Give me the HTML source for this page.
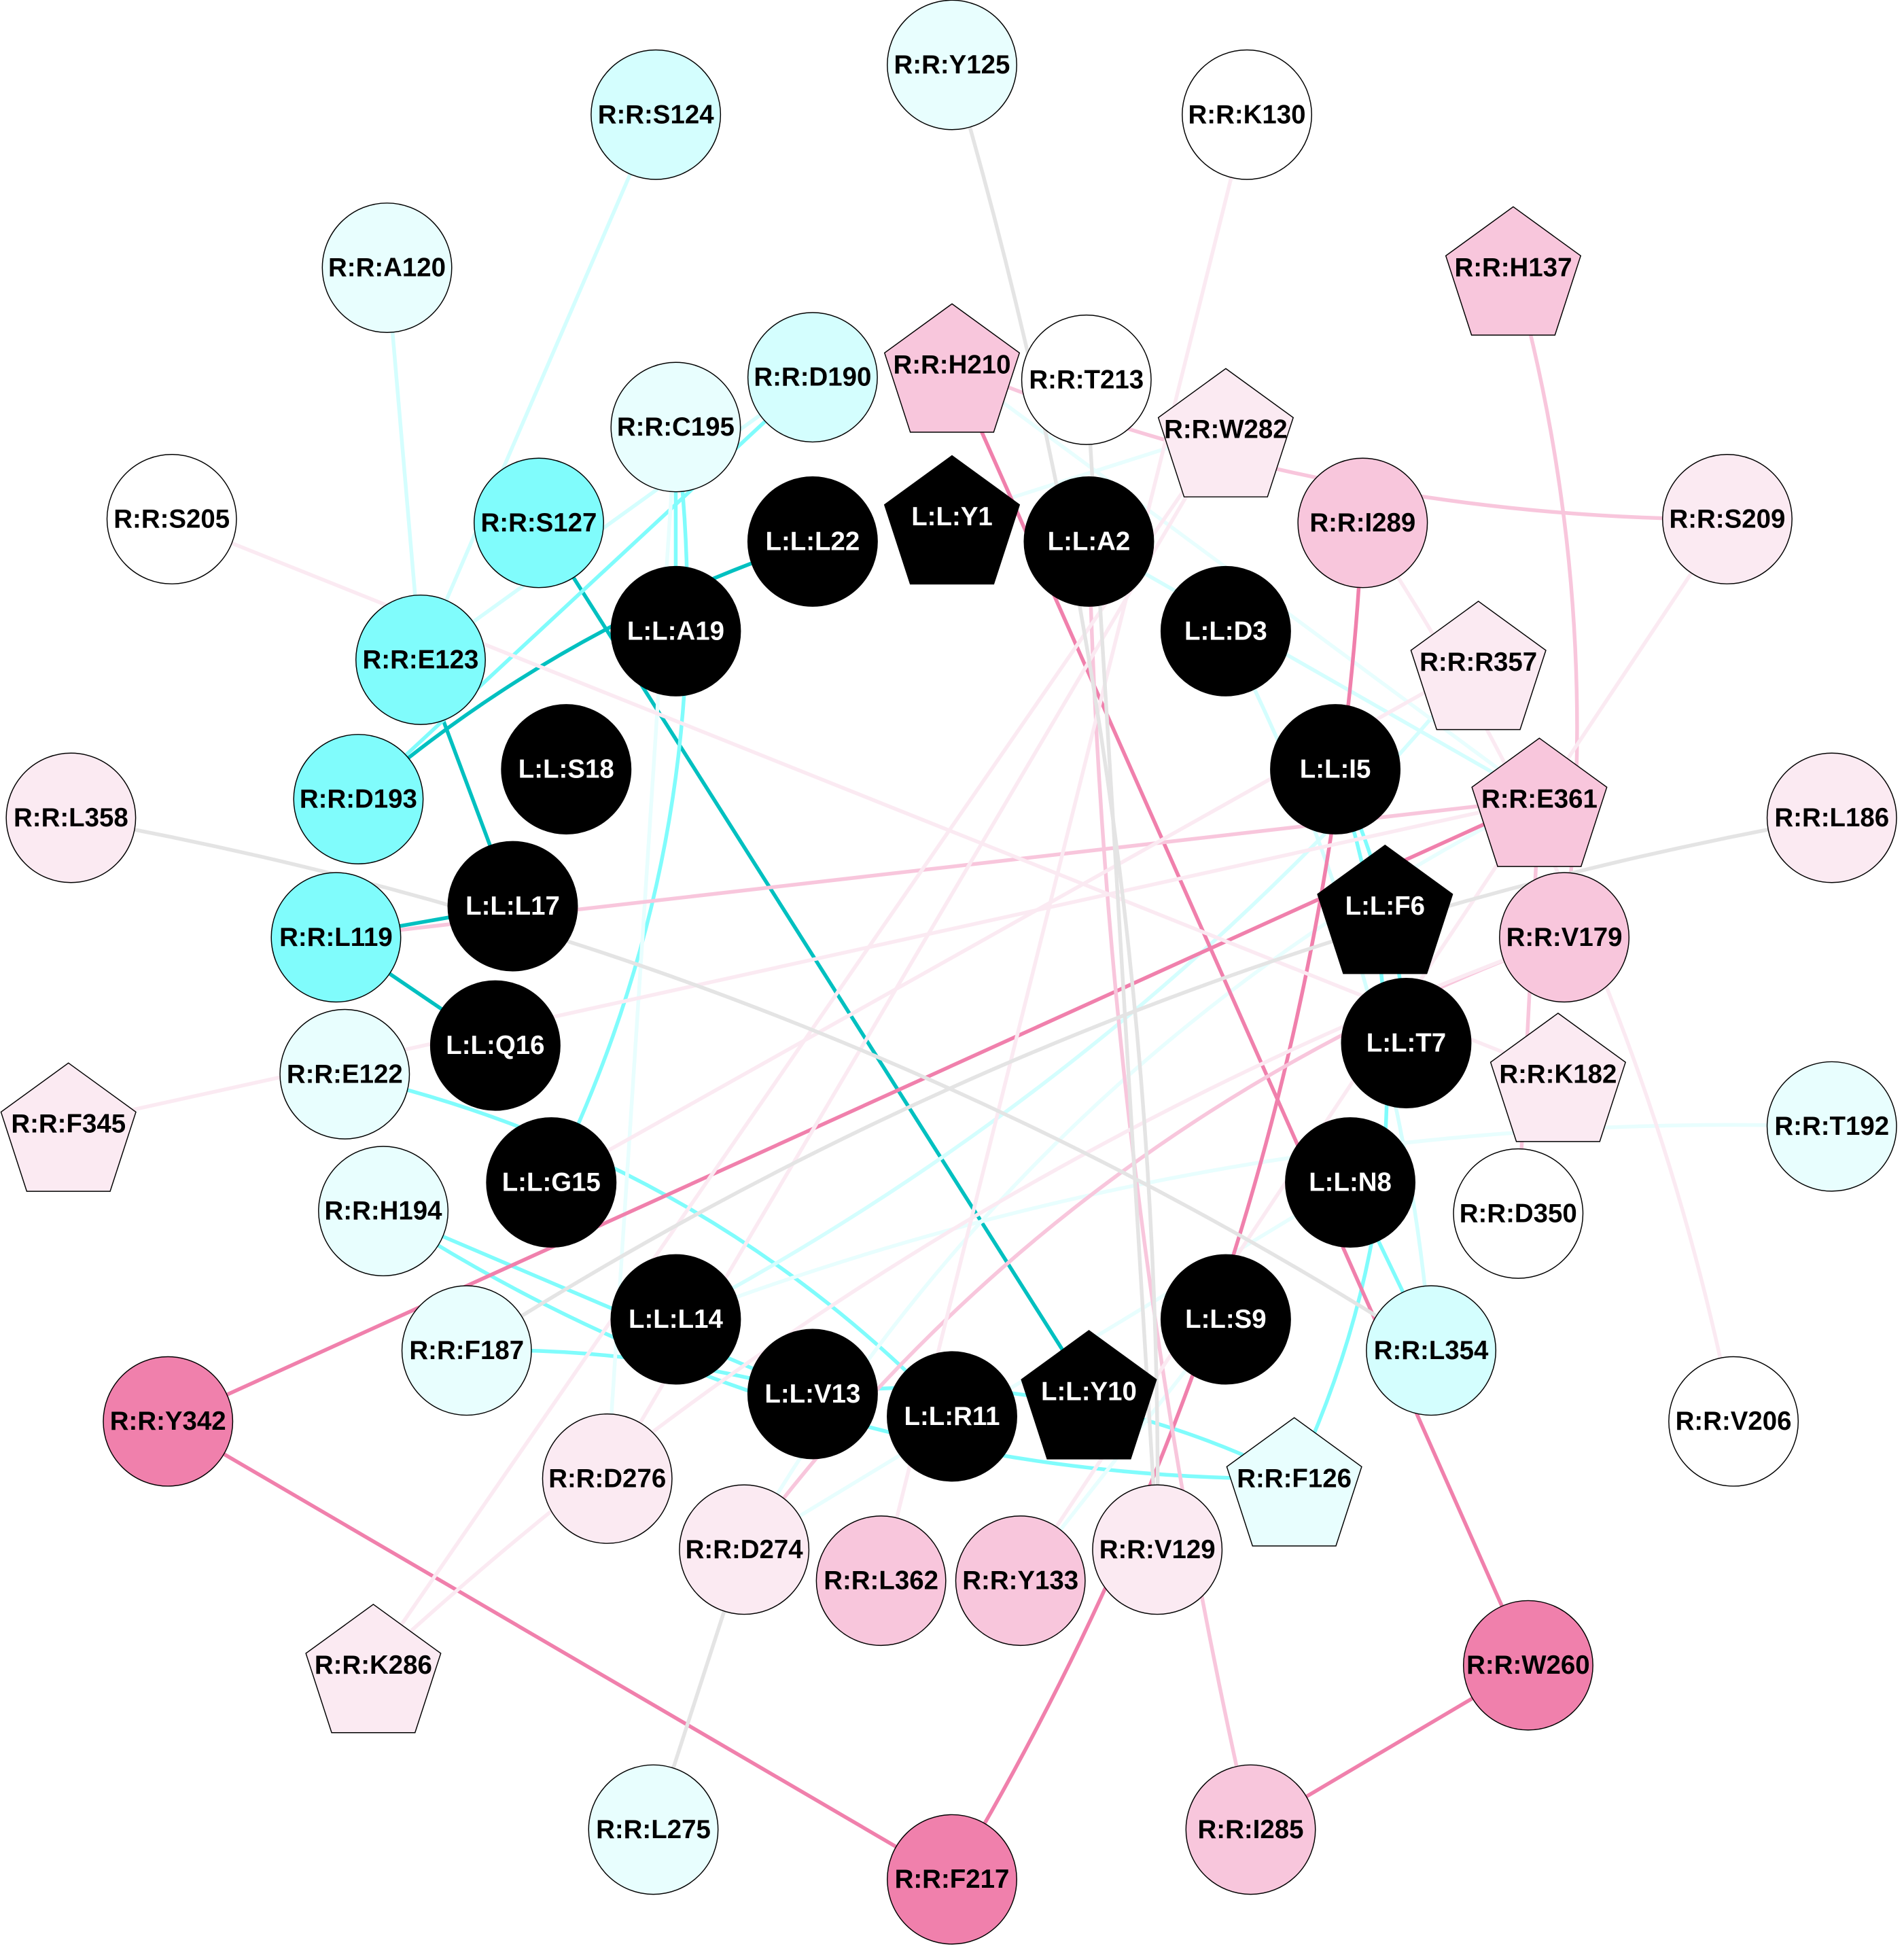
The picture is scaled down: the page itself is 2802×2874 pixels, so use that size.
<!DOCTYPE html>
<html><head><meta charset="utf-8"><style>
html,body{margin:0;padding:0;background:#fff;width:2802px;height:2874px;overflow:hidden}
svg{display:block}
text{font-family:"Liberation Sans",Arial,sans-serif;font-weight:bold;font-size:21px;text-anchor:middle;dominant-baseline:central}
</style></head><body>
<svg id="s" width="2802" height="2874" viewBox="0 0 1530 1569" xmlns="http://www.w3.org/2000/svg">
<g id="e" fill="none" stroke-width="3"></g>
<g id="n"></g>
</svg>
<script>
var N={
"R:R:Y125":[765,52,"c","#e8fefe"],"R:R:S124":[527,92,"c","#d4fefe"],"R:R:K130":[1002,92,"c","#fff"],
"R:R:A120":[311,215,"c","#e8fefe"],"R:R:H137":[1216,215,"p","#f8c6dc"],"R:R:D190":[653,303,"c","#d4fefe"],
"R:R:H210":[765,293,"p","#f8c6dc"],"R:R:T213":[873,305,"c","#fff"],"R:R:C195":[543,343,"c","#e8fefe"],
"R:R:W282":[985,345,"p","#fbeaf2"],"R:R:S205":[138,417,"c","#fff"],"R:R:S127":[433,420,"c","#80fcfc"],
"L:L:L22":[653,435,"c","#000"],"L:L:Y1":[765,415,"p","#000"],"L:L:A2":[875,435,"c","#000"],
"R:R:I289":[1095,420,"c","#f8c6dc"],"R:R:S209":[1388,417,"c","#fbeaf2"],"L:L:A19":[543,507,"c","#000"],
"L:L:D3":[985,507,"c","#000"],"R:R:E123":[338,530,"c","#80fcfc"],"R:R:R357":[1188,532,"p","#fbeaf2"],
"L:L:S18":[455,618,"c","#000"],"L:L:I5":[1073,618,"c","#000"],"R:R:D193":[288,642,"c","#80fcfc"],
"R:R:E361":[1237,642,"p","#f8c6dc"],"R:R:L358":[57,657,"c","#fbeaf2"],"R:R:L186":[1472,657,"c","#fbeaf2"],
"L:L:L17":[412,728,"c","#000"],"L:L:F6":[1113,728,"p","#000"],"R:R:L119":[270,753,"c","#80fcfc"],
"R:R:V179":[1257,753,"c","#f8c6dc"],"L:L:Q16":[398,840,"c","#000"],"L:L:T7":[1130,838,"c","#000"],
"R:R:E122":[277,863,"c","#e8fefe"],"R:R:K182":[1252,863,"p","#fbeaf2"],"R:R:F345":[55,903,"p","#fbeaf2"],
"R:R:T192":[1472,905,"c","#e8fefe"],"L:L:G15":[443,950,"c","#000"],"L:L:N8":[1085,950,"c","#000"],
"R:R:H194":[308,973,"c","#e8fefe"],"R:R:D350":[1220,975,"c","#fff"],"L:L:L14":[543,1060,"c","#000"],
"L:L:S9":[985,1060,"c","#000"],"R:R:F187":[375,1085,"c","#e8fefe"],"R:R:L354":[1150,1085,"c","#d4fefe"],
"L:L:V13":[653,1120,"c","#000"],"L:L:R11":[765,1138,"c","#000"],"L:L:Y10":[875,1118,"p","#000"],
"R:R:Y342":[135,1142,"c","#f080ac"],"R:R:V206":[1393,1142,"c","#fff"],"R:R:D276":[488,1188,"c","#fbeaf2"],
"R:R:F126":[1040,1188,"p","#e8fefe"],"R:R:D274":[598,1245,"c","#fbeaf2"],"R:R:L362":[708,1270,"c","#f8c6dc"],
"R:R:Y133":[820,1270,"c","#f8c6dc"],"R:R:V129":[930,1245,"c","#fbeaf2"],"R:R:K286":[300,1338,"p","#fbeaf2"],
"R:R:W260":[1228,1338,"c","#f080ac"],"R:R:L275":[525,1470,"c","#e8fefe"],"R:R:I285":[1005,1470,"c","#f8c6dc"],
"R:R:F217":[765,1510,"c","#f080ac"]};
var T="#00c0c0",C="#80fcfc",LC="#d4fefe",VC="#e8fefe",P="#f080ac",LP="#f8c6dc",VP="#fbeaf2",G="#e4e4e4";
var E=[
["R:R:S124","R:R:E123",LC,0],["R:R:A120","R:R:E123",LC,0],["R:R:E123","L:L:L17",T,0],
["L:L:L22","R:R:D193",T,20],["R:R:S127","L:L:Y10",T,0],["R:R:L119","L:L:L17",T,0],["R:R:L119","L:L:Q16",T,0],
["R:R:C195","L:L:A19",C,0],["R:R:D190","R:R:D193",C,0],["R:R:C195","L:L:G15",C,-30],
["R:R:E122","L:L:R11",C,-30],["R:R:H194","R:R:F126",C,30],["R:R:H194","L:L:V13",C,0],["R:R:F187","L:L:V13",C,-15],
["L:L:V13","R:R:F126",C,-30],["L:L:I5","R:R:F126",C,-40],["R:R:L354","L:L:N8",C,0],["L:L:T7","L:L:I5",C,20],
["L:L:A2","R:R:E361",LC,0],["R:R:C195","R:R:D276",VC,0],["L:L:D3","R:R:L354",LC,-20],["R:R:R357","L:L:L14",LC,-20],
["R:R:T192","L:L:L14",VC,20],["R:R:H210","R:R:E361",VC,0],["L:L:Y1","R:R:W282",VC,0],["R:R:E361","R:R:D274",VC,30],
["L:L:N8","R:R:D274",VC,0],["L:L:S9","R:R:Y133",VC,0],["R:R:D190","R:R:E123",LC,0],
["R:R:Y342","R:R:E361",P,0],["R:R:Y342","R:R:F217",P,0],["R:R:F217","R:R:I289",P,25],["R:R:W260","R:R:H210",P,0],
["R:R:W260","R:R:I285",P,0],["R:R:H210","R:R:S209",LP,20],["R:R:H137","R:R:V179",LP,-20],["R:R:I285","L:L:A2",LP,-10],
["R:R:F345","R:R:E361",VP,0],["R:R:L119","R:R:E361",LP,0],["R:R:V179","R:R:D274",LP,30],["R:R:K130","R:R:L362",VP,0],
["R:R:S205","R:R:K182",VP,0],["R:R:W282","R:R:K286",VP,0],["R:R:R357","L:L:G15",VP,0],["R:R:S209","R:R:Y133",VP,0],
["R:R:I289","R:R:V206",VP,-20],["R:R:W282","R:R:D276",VP,0],["R:R:E361","R:R:D350",LP,0],["R:R:V179","R:R:K286",VP,20],
["R:R:Y125","R:R:V129",G,-15],["R:R:L358","R:R:L354",G,-20],["R:R:L186","R:R:F187",G,20],["R:R:D274","R:R:L275",G,0],
["R:R:T213","R:R:V129",G,0]];
var ns="http://www.w3.org/2000/svg",eg=document.getElementById("e"),ng=document.getElementById("n");
E.forEach(function(d){var a=N[d[0]],b=N[d[1]];var p=document.createElementNS(ns,"path");
var mx=(a[0]+b[0])/2,my=(a[1]+b[1])/2,dx=b[0]-a[0],dy=b[1]-a[1],l=Math.hypot(dx,dy)||1,k=d[3]/100*l*0.5;
var qx=mx-dy/l*k,qy=my+dx/l*k;
p.setAttribute("d","M"+a[0]+","+a[1]+" Q"+qx+","+qy+" "+b[0]+","+b[1]);p.setAttribute("stroke",d[2]);eg.appendChild(p);});
for(var k in N){var v=N[k],s;
if(v[2]=="c"){s=document.createElementNS(ns,"ellipse");s.setAttribute("cx",v[0]);s.setAttribute("cy",v[1]);s.setAttribute("rx",52);s.setAttribute("ry",52);}
else{s=document.createElementNS(ns,"polygon");var pts=[];for(var i=0;i<5;i++){var an=(-90+72*i)*Math.PI/180;pts.push((v[0]+57*Math.cos(an)).toFixed(1)+","+(v[1]+8+57*Math.sin(an)).toFixed(1));}s.setAttribute("points",pts.join(" "));}
s.setAttribute("fill",v[3]);s.setAttribute("stroke","#000");s.setAttribute("stroke-width","0.8");ng.appendChild(s);
var t=document.createElementNS(ns,"text");t.setAttribute("x",v[0]);t.setAttribute("y",v[1]);t.setAttribute("fill",v[3]=="#000"?"#fff":"#000");t.textContent=k;ng.appendChild(t);}
</script>
</body></html>
